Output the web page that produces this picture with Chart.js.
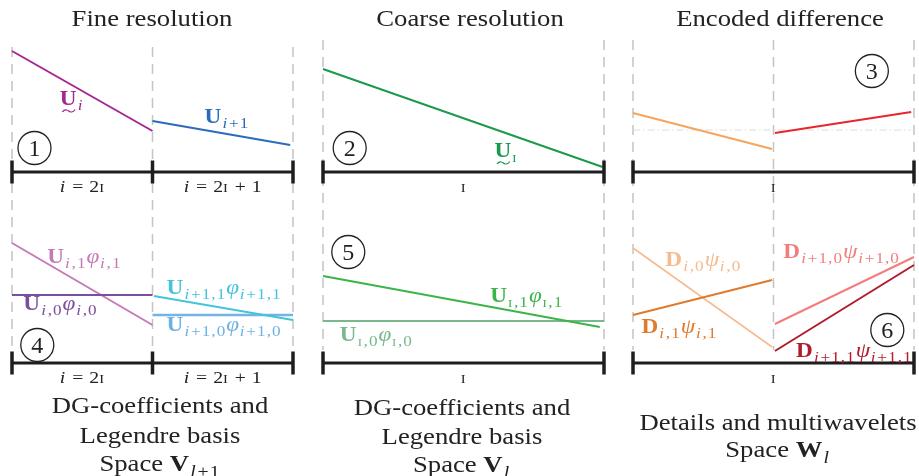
<!DOCTYPE html>
<html>
<head>
<meta charset="utf-8">
<script src="https://cdn.jsdelivr.net/npm/chart.js@4"></script>
<style>
  body { margin: 0; background: #fff; }
  canvas { display: block; }
</style>
</head>
<body>
<canvas id="dg-chart" width="919" height="476"></canvas>
<script>
// Values in cell units (x: 0..2 across a panel) and heights above the axis (v)
const fineUi = [[0, 12.1], [1.0, 4.1]];
const fineUi1 = [[1.0, 5.1], [1.98, 2.7]];
const coarseU = [[0, 10.3], [1.99, 0.5]];
const diffLeft = [[0.0, 5.9], [0.99, 2.3]];
const diffRight = [[1.01, 3.9], [1.98, 6.0]];
const diffZero = [[0.0, 4.2], [1.98, 4.2]];
const fineUi1Phi = [[0, 12.0], [1.0, 3.8]];
const fineUi0Phi = [[0, 6.8], [1.0, 6.8]];
const fineUj1Phi = [[1.01, 6.7], [2.0, 4.3]];
const fineUj0Phi = [[1.0, 4.8], [2.0, 4.8]];
const coarseU1Phi = [[0, 8.7], [1.97, 3.6]];
const coarseU0Phi = [[0, 4.2], [2.0, 4.2]];
const detailD0 = [[0, 11.5], [0.99, 1.6]];
const detailD1 = [[0, 4.8], [0.99, 8.3]];
const detailDj0 = [[1.01, 3.9], [2.0, 10.6]];
const detailDj1 = [[1.01, 1.2], [2.0, 9.8]];

const panelTitles = ["Fine resolution", "Coarse resolution", "Encoded difference"];
const cellLabels = [["i = 2ɪ", "i = 2ɪ + 1"], ["ɪ"], ["ɪ"]];
const captions = [
  ["DG-coefficients and|", "Legendre basis|", "Space |V_{l+1}"],
  ["DG-coefficients and|", "Legendre basis|", "Space |V_{l}"],
  ["Details and multiwavelets|", "Space |W_{l}"]
];

// layout (chart units == pixels)
const panelLeft = [12, 323, 633];
const cellWidth = 140.5;
const rowAxis = [172, 363];
const valueUnit = 10;
const edges = [[0, 1, 2], [0, 2], [0, 1, 2]];
const tickEdges = [[0, 1, 2], [0, 2], [0, 2]];
const serif = "'Liberation Serif', 'DejaVu Serif', serif";
const stretch = 1.16; // widen the serif face horizontally

function pt(panel, row, x, v) {
  return { x: panelLeft[panel] + x * cellWidth, y: rowAxis[row] - v * valueUnit };
}

function seg(panel, row, values, color, width, dash) {
  return {
    data: values.map(d => pt(panel, row, d[0], d[1])),
    borderColor: color,
    borderWidth: width || 2,
    borderDash: dash || [],
    showLine: true,
    pointRadius: 0,
    fill: false
  };
}

// pushed in paint order (bottom first), reversed before handing to Chart.js
const layers = [];

// dashed cell boundaries
edges.forEach((list, p) => {
  list.forEach(e => {
    const top = p === 0 ? 47 : 40;
    layers.push({
      data: [{ x: panelLeft[p] + e * cellWidth, y: top }, { x: panelLeft[p] + e * cellWidth, y: 350 }],
      borderColor: "#c4c4c4", borderWidth: 1.5, borderDash: [10, 7],
      showLine: true, pointRadius: 0
    });
  });
});

// faint reference in the difference panel
layers.push(seg(2, 0, diffZero, "#dcdcdc", 1, [7, 3, 1.5, 3]));

// coloured coefficient segments
layers.push(seg(0, 0, fineUi, "#a3278f"));
layers.push(seg(0, 0, fineUi1, "#2a6cbb"));
layers.push(seg(1, 0, coarseU, "#1b9a4c"));
layers.push(seg(2, 0, diffLeft, "#f6a45e"));
layers.push(seg(2, 0, diffRight, "#e8262b"));
layers.push(seg(0, 1, fineUi1Phi, "#c57ab8"));
layers.push(seg(0, 1, fineUi0Phi, "#7a4f9f"));
layers.push(seg(0, 1, fineUj0Phi, "#74b4e4", 2.5));
layers.push(seg(0, 1, fineUj1Phi, "#44c4dc"));
layers.push(seg(1, 1, coarseU0Phi, "#78b88c"));
layers.push(seg(1, 1, coarseU1Phi, "#3cb44a"));
layers.push(seg(2, 1, detailD0, "#f6bb8e", 1.6));
layers.push(seg(2, 1, detailD1, "#e07a2c"));
layers.push(seg(2, 1, detailDj0, "#f27d7d"));
layers.push(seg(2, 1, detailDj1, "#b01c2c"));

// axes and tick marks
[0, 1].forEach(r => {
  [0, 1, 2].forEach(p => {
    layers.push({
      data: [pt(p, r, 0, 0), pt(p, r, 2, 0)],
      borderColor: "#1e1e1e", borderWidth: 3, showLine: true, pointRadius: 0
    });
    tickEdges[p].forEach(e => {
      const c = pt(p, r, e, 0);
      layers.push({
        data: [{ x: c.x, y: c.y - 11.5 }, { x: c.x, y: c.y + 11.5 }],
        borderColor: "#1e1e1e", borderWidth: 3.5, showLine: true, pointRadius: 0
      });
    });
  });
});

// coefficient labels: [panel, row, x, v, text, colour, tilde]
const labels = [
  [0, 0, 0.34, 6.7, "U_{i}", "#a3278f", true],
  [0, 0, 1.37, 4.9, "U_{i+1}", "#2a6cbb", false],
  [1, 0, 1.22, 1.5, "U_{ɪ}", "#1b9a4c", true],
  [0, 1, 0.25, 10.0, "U_{i,1}φ_{i,1}", "#c57ab8", false],
  [0, 1, 0.08, 5.3, "U_{i,0}φ_{i,0}", "#7a4f9f", false],
  [0, 1, 1.10, 6.9, "U_{i+1,1}φ_{i+1,1}", "#44c4dc", false],
  [0, 1, 1.10, 3.2, "U_{i+1,0}φ_{i+1,0}", "#6cb2e2", false],
  [1, 1, 1.19, 6.1, "U_{ɪ,1}φ_{ɪ,1}", "#3cb44a", false],
  [1, 1, 0.12, 2.2, "U_{ɪ,0}φ_{ɪ,0}", "#78b88c", false],
  [2, 1, 0.23, 9.7, "D_{i,0}ψ_{i,0}", "#f6bb8e", false],
  [2, 1, 0.06, 3.0, "D_{i,1}ψ_{i,1}", "#e07a2c", false],
  [2, 1, 1.07, 10.5, "D_{i+1,0}ψ_{i+1,0}", "#f27d7d", false],
  [2, 1, 1.16, 0.6, "D_{i+1,1}ψ_{i+1,1}", "#b01c2c", false]
];

// numbered circles: [panel, row, x, v, digit]
const markers = [
  [0, 0, 0.16, 2.4, "1"], [1, 0, 0.19, 2.4, "2"], [2, 0, 1.70, 10.1, "3"],
  [0, 1, 0.18, 1.8, "4"], [1, 1, 0.18, 11.1, "5"], [2, 1, 1.81, 3.3, "6"]
];

// split a TeX-like string into glyph runs; text before "|" is plain
function tokens(src) {
  const out = [];
  const bar = src.indexOf("|");
  if (bar >= 0) {
    if (bar > 0) out.push({ c: src.slice(0, bar), kind: "plain", sub: false });
    src = src.slice(bar + 1);
  }
  for (let i = 0; i < src.length; i++) {
    const c = src[i];
    if (c === "_") {
      let grp = "";
      if (src[i + 1] === "{") {
        const end = src.indexOf("}", i);
        grp = src.slice(i + 2, end);
        i = end;
      } else { grp = src[i + 1]; i++; }
      for (const g of grp) out.push({ c: g, sub: true });
    } else {
      out.push({ c: c, sub: false });
    }
  }
  return out;
}

function fontFor(tok, size) {
  const s = tok.sub ? size * 0.74 : size;
  if (tok.kind === "plain") return { font: `${s}px ${serif}`, text: tok.c, pad: 0 };
  const c = tok.c;
  const pad = tok.sub ? 0.9 : 0;
  if (c === "ɪ") return { font: `${s * 0.74}px ${serif}`, text: "I", pad: pad + 0.5 };
  if (/[A-Z]/.test(c)) return { font: `bold ${s}px ${serif}`, text: c, pad: 1 };
  if (/[a-zφψ]/.test(c)) return { font: `italic ${s}px ${serif}`, text: c, pad: pad + 0.6 };
  if (c === " ") return { font: `${s}px ${serif}`, text: c, pad: 1 };
  return { font: `${s}px ${serif}`, text: c, pad: pad };
}

function drawMath(ctx, src, x, y, size, color, align, tilde) {
  const toks = tokens(src).map(t => Object.assign(t, fontFor(t, size)));
  let w = 0;
  toks.forEach(t => {
    ctx.font = t.font;
    t.w = ctx.measureText(t.text).width + t.pad;
    w += t.w;
  });
  const x0 = align === "center" ? x - (w * stretch) / 2 : x;
  ctx.save();
  ctx.translate(x0, y);
  ctx.scale(stretch, 1);
  ctx.fillStyle = color;
  ctx.textAlign = "left";
  ctx.textBaseline = "alphabetic";
  let cx = 0;
  toks.forEach((t, i) => {
    ctx.font = t.font;
    ctx.fillText(t.text, cx, t.sub ? size * 0.26 : 0);
    if (tilde && i === 0) {
      const mx = cx + t.w / 2, my = 5.5;
      ctx.strokeStyle = color;
      ctx.lineWidth = 1.1;
      ctx.beginPath();
      ctx.moveTo(mx - 5.5, my + 1.5);
      ctx.bezierCurveTo(mx - 3, my - 2.5, mx, my + 0.5, mx, my + 0.5);
      ctx.bezierCurveTo(mx, my + 0.5, mx + 3, my + 3.5, mx + 5.5, my - 1);
      ctx.stroke();
    }
    cx += t.w;
  });
  ctx.restore();
}

const overlay = {
  id: "overlay",
  afterDatasetsDraw(chart) {
    const ctx = chart.ctx;
    const sx = chart.scales.x, sy = chart.scales.y;
    const at = (p, r, x, v) => {
      const q = pt(p, r, x, v);
      return { x: sx.getPixelForValue(q.x), y: sy.getPixelForValue(q.y) };
    };
    ctx.save();

    // panel titles
    const titleX = [152, 470, 780];
    panelTitles.forEach((t, p) => {
      drawMath(ctx, t + "|", titleX[p], 26, 23, "#222", "center", false);
    });

    // cell labels under each axis
    [0, 1].forEach(r => {
      cellLabels.forEach((list, p) => {
        list.forEach((txt, k) => {
          const cxv = list.length === 2 ? 0.5 + k : 1.0;
          const q = at(p, r, cxv, 0);
          drawMath(ctx, txt, q.x, q.y + 19.5, 17, "#222", "center", false);
        });
      });
    });

    // coefficient labels
    labels.forEach(l => {
      const q = at(l[0], l[1], l[2], l[3]);
      drawMath(ctx, l[4], q.x, q.y, 20, l[5], "left", l[6]);
    });

    // numbered circles
    markers.forEach(m => {
      const q = at(m[0], m[1], m[2], m[3]);
      ctx.beginPath();
      ctx.arc(q.x, q.y, 16.5, 0, Math.PI * 2);
      ctx.fillStyle = "#fff";
      ctx.fill();
      ctx.strokeStyle = "#222";
      ctx.lineWidth = 1.3;
      ctx.stroke();
      ctx.font = `24px ${serif}`;
      ctx.fillStyle = "#222";
      ctx.textAlign = "center";
      ctx.textBaseline = "middle";
      ctx.fillText(m[4], q.x, q.y + 1.5);
    });

    // captions below each bottom panel
    const capX = [160, 462, 778];
    const capY = [[413, 443, 471], [415, 444, 472], [430, 457]];
    captions.forEach((lines, p) => {
      lines.forEach((txt, k) => {
        drawMath(ctx, txt, capX[p], capY[p][k], 23, "#222", "center", false);
      });
    });
    ctx.restore();
  }
};

new Chart(document.getElementById("dg-chart").getContext("2d"), {
  type: "scatter",
  data: { datasets: layers.slice().reverse() },
  options: {
    responsive: false,
    animation: false,
    events: [],
    layout: { padding: 0 },
    plugins: { legend: { display: false }, tooltip: { enabled: false } },
    scales: {
      x: { type: "linear", min: 0, max: 919, display: false },
      y: { type: "linear", min: 0, max: 476, reverse: true, display: false }
    }
  },
  plugins: [overlay]
});
</script>
</body>
</html>
